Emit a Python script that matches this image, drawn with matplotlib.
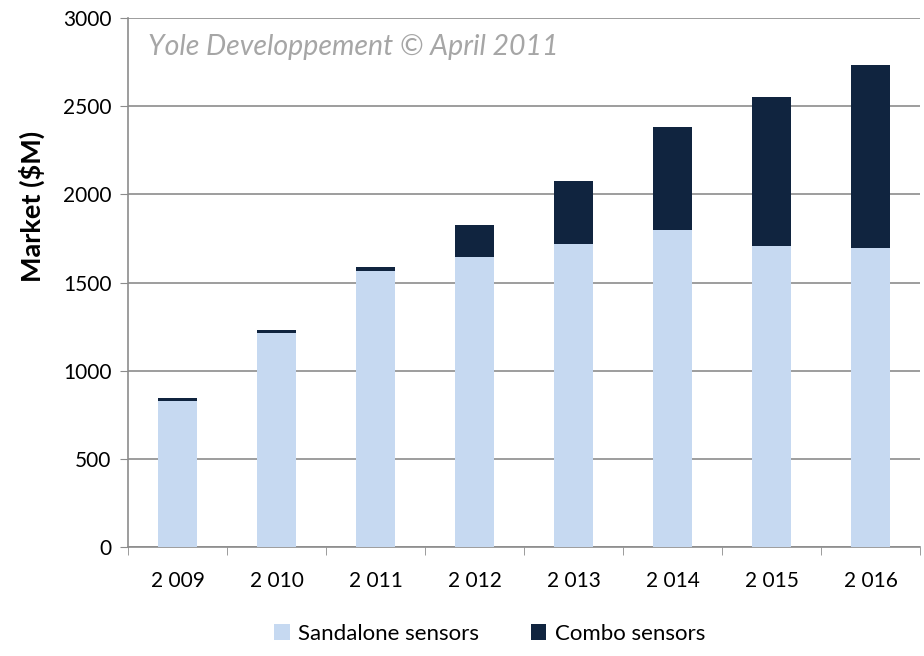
import matplotlib
matplotlib.use('Agg')
import matplotlib.pyplot as plt
import numpy as np

plt.rcParams['font.family'] = ['Lato', 'DejaVu Sans']

years = ['2 009', '2 010', '2 011', '2 012', '2 013', '2 014', '2 015', '2 016']
standalone = [830, 1212, 1565, 1642, 1718, 1800, 1705, 1695]
combo = [15, 18, 24, 182, 357, 582, 847, 1040]

LIGHT = '#C6D9F1'
DARK = '#10243F'

fig = plt.figure(figsize=(9.24, 6.56), dpi=100)
ax = fig.add_axes([128 / 924, 1 - 547 / 656, 792 / 924, 529 / 656])

x = np.arange(len(years))
ax.bar(x, standalone, width=0.4, color=LIGHT, label='Sandalone sensors', zorder=3)
ax.bar(x, combo, width=0.4, bottom=standalone, color=DARK, label='Combo sensors', zorder=3)

ax.set_xlim(-0.5, len(years) - 0.5)
ax.set_ylim(0, 3000)
ax.set_yticks(range(0, 3001, 500))
ax.yaxis.grid(True, color='#8c8c8c', linewidth=1.2, zorder=0)

ax.set_xticks(x)
ax.set_xticklabels(years)
ax.set_xticks(np.arange(-0.5, len(years), 1), minor=True)
ax.tick_params(axis='x', which='major', length=0, pad=17, labelsize=15)
ax.tick_params(axis='x', which='minor', length=6, color='#8c8c8c', direction='out')
ax.tick_params(axis='y', length=6, color='#8c8c8c', labelsize=15, pad=6)

for s in ['top', 'right']:
    ax.spines[s].set_visible(False)
for s in ['left', 'bottom']:
    ax.spines[s].set_color('#8c8c8c')
    ax.spines[s].set_linewidth(1.2)

ax.set_ylabel('Market ($M)', fontsize=19.5, fontweight='bold')
ax.yaxis.set_label_coords(-0.105, 0.643)

ax.text(0.025, 0.945, 'Yole Developpement \u00a9 April 2011', transform=ax.transAxes,
        fontsize=20.5, style='italic', color='#a6a6a6', va='center', ha='left')

fig.legend(loc='lower center', bbox_to_anchor=(0.53, -0.012), ncol=2, frameon=False,
           fontsize=16, handlelength=0.7, handleheight=0.7, handletextpad=0.4,
           columnspacing=2.3)

fig.savefig('out.png', dpi=100)
